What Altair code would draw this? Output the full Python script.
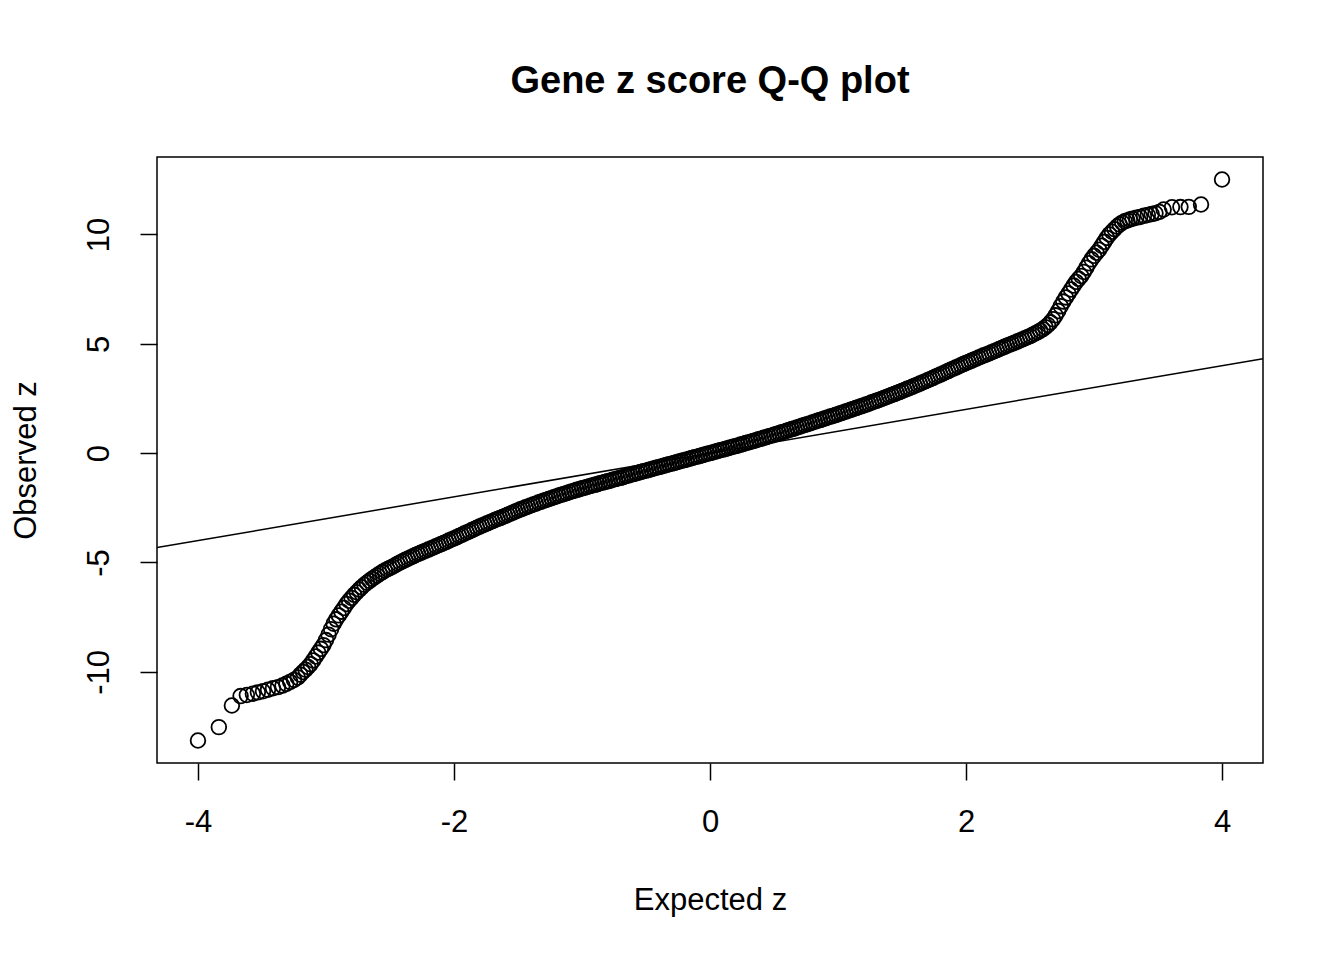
import altair as alt
import pandas as pd

# ---- data ----
lower_x = [-4.000, -3.837, -3.735, -3.667, -3.618, -3.571, -3.532, -3.492, -3.453, -3.414, -3.375,
           -3.34, -3.31, -3.28, -3.25, -3.22, -3.20, -3.18, -3.16, -3.14, -3.12, -3.10, -3.08, -3.06,
           -3.04, -3.02, -3.00, -2.98, -2.96, -2.94, -2.92, -2.90, -2.88, -2.86, -2.84, -2.82, -2.80,
           -2.78, -2.76, -2.74, -2.72, -2.70, -2.68, -2.66, -2.64, -2.62, -2.60, -2.58, -2.56, -2.54,
           -2.52]
lower_y = [-13.14, -12.53, -11.54, -11.11, -11.06, -11.00, -10.94, -10.89, -10.82, -10.75, -10.70,
           -10.63, -10.55, -10.46, -10.37, -10.26, -10.13, -10.01, -9.90, -9.78, -9.65, -9.48, -9.30, -9.12,
           -8.95, -8.78, -8.55, -8.30, -8.05, -7.80, -7.60, -7.42, -7.25, -7.08, -6.90, -6.75, -6.62,
           -6.48, -6.36, -6.24, -6.13, -6.02, -5.93, -5.84, -5.75, -5.67, -5.59, -5.51, -5.44, -5.37,
           -5.31]

mid_x = [-2.50, -2.48, -2.46, -2.44, -2.42, -2.40, -2.38, -2.36, -2.34, -2.32,
         -2.30, -2.28, -2.26, -2.24, -2.22, -2.20, -2.18, -2.16, -2.14, -2.12,
         -2.10, -2.08, -2.06, -2.04, -2.02, -2.00, -1.98, -1.96, -1.94, -1.92,
         -1.90, -1.88, -1.86, -1.84, -1.82, -1.80, -1.78, -1.76, -1.74, -1.72,
         -1.70, -1.68, -1.66, -1.64, -1.62, -1.60, -1.58, -1.56, -1.54, -1.52,
         -1.50, -1.48, -1.46, -1.44, -1.42, -1.40, -1.38, -1.36, -1.34, -1.32,
         -1.30, -1.28, -1.26, -1.24, -1.22, -1.20, -1.18, -1.16, -1.14, -1.12,
         -1.10, -1.08, -1.06, -1.04, -1.02, -1.00, -0.98, -0.96, -0.94, -0.92,
         -0.90, -0.88, -0.86, -0.84, -0.82, -0.80, -0.78, -0.76, -0.74, -0.72,
         -0.70, -0.68, -0.66, -0.64, -0.62, -0.60, -0.58, -0.56, -0.54, -0.52,
         -0.50, -0.48, -0.46, -0.44, -0.42, -0.40, -0.38, -0.36, -0.34, -0.32,
         -0.30, -0.28, -0.26, -0.24, -0.22, -0.20, -0.18, -0.16, -0.14, -0.12,
         -0.10, -0.08, -0.06, -0.04, -0.02, 0.00, 0.02, 0.04, 0.06, 0.08,
         0.10, 0.12, 0.14, 0.16, 0.18, 0.20, 0.22, 0.24, 0.26, 0.28,
         0.30, 0.32, 0.34, 0.36, 0.38, 0.40, 0.42, 0.44, 0.46, 0.48,
         0.50, 0.52, 0.54, 0.56, 0.58, 0.60, 0.62, 0.64, 0.66, 0.68,
         0.70, 0.72, 0.74, 0.76, 0.78, 0.80, 0.82, 0.84, 0.86, 0.88,
         0.90, 0.92, 0.94, 0.96, 0.98, 1.00, 1.02, 1.04, 1.06, 1.08,
         1.10, 1.12, 1.14, 1.16, 1.18, 1.20, 1.22, 1.24, 1.26, 1.28,
         1.30, 1.32, 1.34, 1.36, 1.38, 1.40, 1.42, 1.44, 1.46, 1.48,
         1.50, 1.52, 1.54, 1.56, 1.58, 1.60, 1.62, 1.64, 1.66, 1.68,
         1.70, 1.72, 1.74, 1.76, 1.78, 1.80, 1.82, 1.84, 1.86, 1.88,
         1.90, 1.92, 1.94, 1.96, 1.98, 2.00, 2.02, 2.04, 2.06, 2.08,
         2.10, 2.12, 2.14, 2.16, 2.18, 2.20, 2.22, 2.24, 2.26, 2.28,
         2.30, 2.32, 2.34, 2.36, 2.38, 2.40, 2.42, 2.44, 2.46, 2.48]
mid_y = [-5.25, -5.19, -5.13, -5.06, -5.00, -4.94, -4.88, -4.83, -4.77, -4.72,
         -4.66, -4.61, -4.56, -4.51, -4.46, -4.41, -4.36, -4.31, -4.26, -4.21,
         -4.16, -4.11, -4.06, -4.00, -3.95, -3.90, -3.85, -3.79, -3.74, -3.68,
         -3.63, -3.58, -3.52, -3.47, -3.41, -3.36, -3.31, -3.26, -3.21, -3.16,
         -3.11, -3.06, -3.01, -2.97, -2.92, -2.87, -2.82, -2.77, -2.72, -2.67,
         -2.62, -2.57, -2.53, -2.48, -2.44, -2.39, -2.35, -2.31, -2.26, -2.22,
         -2.18, -2.14, -2.10, -2.06, -2.02, -1.98, -1.94, -1.90, -1.87, -1.83,
         -1.79, -1.75, -1.72, -1.68, -1.65, -1.61, -1.58, -1.55, -1.51, -1.48,
         -1.45, -1.42, -1.38, -1.35, -1.32, -1.29, -1.26, -1.22, -1.19, -1.16,
         -1.13, -1.10, -1.06, -1.03, -0.99, -0.96, -0.93, -0.90, -0.86, -0.83,
         -0.80, -0.77, -0.74, -0.70, -0.67, -0.64, -0.61, -0.58, -0.54, -0.51,
         -0.48, -0.45, -0.42, -0.38, -0.35, -0.32, -0.29, -0.26, -0.22, -0.19,
         -0.16, -0.13, -0.10, -0.06, -0.03, 0.00, 0.03, 0.06, 0.10, 0.13,
         0.16, 0.19, 0.22, 0.26, 0.29, 0.32, 0.35, 0.39, 0.42, 0.46,
         0.49, 0.52, 0.56, 0.59, 0.63, 0.66, 0.70, 0.73, 0.77, 0.80,
         0.84, 0.88, 0.91, 0.95, 0.98, 1.02, 1.06, 1.10, 1.13, 1.17,
         1.21, 1.25, 1.29, 1.32, 1.36, 1.40, 1.44, 1.48, 1.51, 1.55,
         1.59, 1.63, 1.67, 1.70, 1.74, 1.78, 1.82, 1.86, 1.90, 1.94,
         1.98, 2.02, 2.06, 2.10, 2.14, 2.18, 2.22, 2.26, 2.31, 2.35,
         2.39, 2.43, 2.48, 2.52, 2.57, 2.61, 2.66, 2.70, 2.75, 2.79,
         2.84, 2.89, 2.94, 2.98, 3.03, 3.08, 3.13, 3.18, 3.23, 3.28,
         3.33, 3.38, 3.43, 3.49, 3.54, 3.59, 3.64, 3.70, 3.75, 3.81,
         3.86, 3.91, 3.96, 4.02, 4.07, 4.12, 4.17, 4.22, 4.27, 4.32,
         4.37, 4.42, 4.47, 4.51, 4.56, 4.61, 4.66, 4.71, 4.76, 4.81,
         4.86, 4.91, 4.96, 5.00, 5.05, 5.10, 5.15, 5.20, 5.25, 5.30]

upper_x = [2.50, 2.52, 2.54, 2.56, 2.58, 2.60, 2.62, 2.64, 2.66, 2.68, 2.70, 2.72, 2.74, 2.76,
           2.78, 2.80, 2.82, 2.84, 2.86, 2.88, 2.90, 2.92, 2.94, 2.96, 2.98, 3.00, 3.02, 3.04,
           3.06, 3.08, 3.10, 3.12, 3.14, 3.16, 3.18, 3.20, 3.22, 3.24, 3.26, 3.28, 3.30, 3.33,
           3.36, 3.39, 3.42, 3.45, 3.48, 3.51, 3.544, 3.609, 3.675, 3.740, 3.836, 4.000]
upper_y = [5.35, 5.41, 5.47, 5.53, 5.60, 5.67, 5.76, 5.86, 5.98, 6.12, 6.30, 6.50, 6.72, 6.93,
           7.12, 7.30, 7.48, 7.66, 7.83, 7.97, 8.10, 8.28, 8.48, 8.68, 8.86, 9.02, 9.16, 9.30,
           9.48, 9.66, 9.84, 10.00, 10.12, 10.24, 10.36, 10.46, 10.54, 10.60, 10.64, 10.68, 10.72, 10.76,
           10.80, 10.85, 10.89, 10.93, 10.97, 11.03, 11.14, 11.24, 11.25, 11.26, 11.37, 12.51]

# reference line y = x (abline(0, 1)) across the plot range
ref_x = [-4.32, 4.32]
ref_y = [-4.32, 4.32]

x_ticks = [-4, -2, 0, 2, 4]
y_ticks = [-10, -5, 0, 5, 10]
x_domain = [-4.32, 4.32]
y_domain = [-14.17, 13.54]

FONT = "Liberation Sans"

pts = pd.DataFrame({
    "expected": lower_x + mid_x + upper_x,
    "observed": lower_y + mid_y + upper_y,
})
ref = pd.DataFrame({"expected": ref_x, "observed": ref_y})

xscale = alt.Scale(domain=x_domain, nice=False, zero=False)
yscale = alt.Scale(domain=y_domain, nice=False, zero=False)

xaxis = alt.Axis(values=x_ticks, title="Expected z", grid=False, domain=False,
                 tickColor="black", tickSize=17, tickWidth=1.5,
                 labelFont=FONT, labelFontSize=31, labelColor="black", labelPadding=27,
                 labelExpr="'' + datum.value",
                 titleFont=FONT, titleFontSize=31, titleFontWeight="normal", titleColor="black",
                 titlePadding=48)
yaxis = alt.Axis(values=y_ticks, title="Observed z", grid=False, domain=False,
                 tickColor="black", tickSize=17, tickWidth=1.5,
                 labelFont=FONT, labelFontSize=31, labelColor="black", labelPadding=25,
                 labelExpr="'' + datum.value",
                 labelAngle=270, labelAlign="center", labelBaseline="bottom",
                 titleFont=FONT, titleFontSize=31, titleFontWeight="normal", titleColor="black",
                 titlePadding=41)

points = alt.Chart(pts).mark_point(
    shape="circle", filled=False, size=215, strokeWidth=1.8, color="black", opacity=1
).encode(
    x=alt.X("expected:Q", scale=xscale, axis=xaxis),
    y=alt.Y("observed:Q", scale=yscale, axis=yaxis),
)

line = alt.Chart(ref).mark_line(color="black", strokeWidth=1.5, clip=True).encode(
    x=alt.X("expected:Q", scale=xscale),
    y=alt.Y("observed:Q", scale=yscale),
)

chart = alt.layer(points, line).properties(
    width=1106, height=606,
    background="white",
    title=alt.TitleParams("Gene z score Q-Q plot", font=FONT, fontSize=38, fontWeight="bold",
                          color="black", anchor="middle", offset=26, baseline="alphabetic"),
    autosize=alt.AutoSizeParams(type="none"),
    padding={"left": 149, "top": 149, "right": 73, "bottom": 189},
).configure_view(stroke="black", strokeWidth=1.5)

chart.save("out.html", embed_options={"renderer": "svg", "actions": False})
